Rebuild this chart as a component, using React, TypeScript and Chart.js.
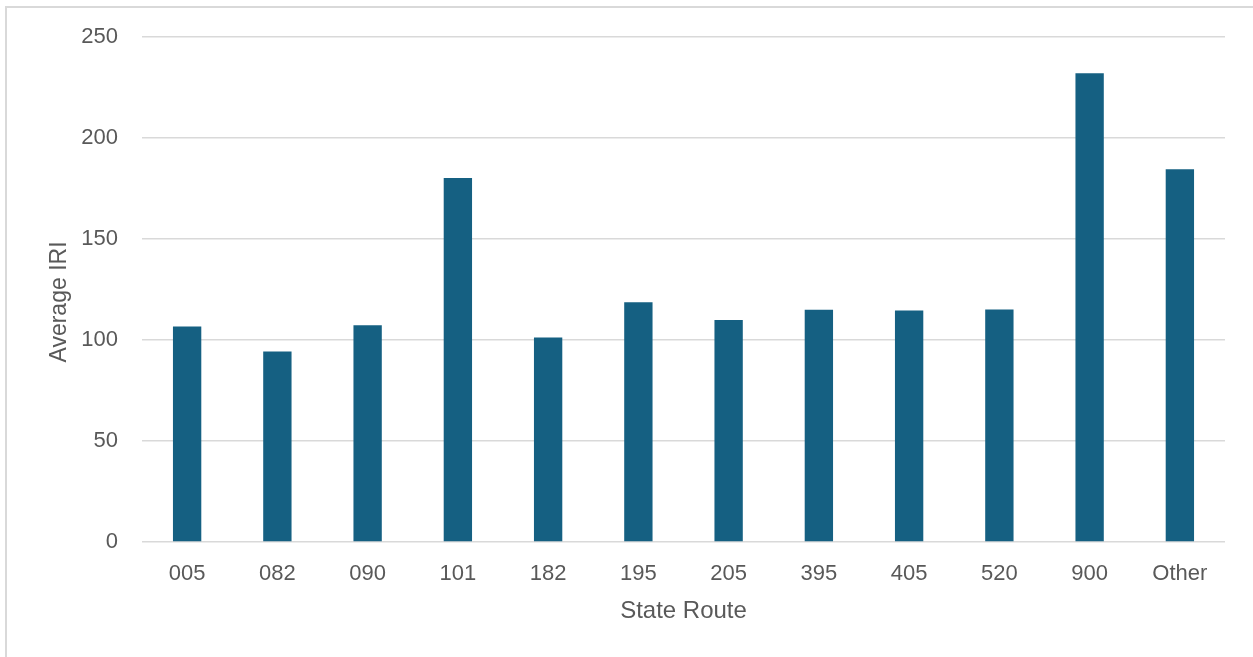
import React, { useEffect, useRef } from "react";
import { Chart, registerables } from "chart.js";

Chart.register(...registerables);

// Average IRI by state route
const routes = ["005", "082", "090", "101", "182", "195", "205", "395", "405", "520", "900", "Other"];
const averageIri = [106.7, 94.4, 107.4, 180.3, 101.3, 118.7, 110.0, 115.0, 114.6, 115.1, 232.1, 184.6];
const yTicks = [0, 50, 100, 150, 200, 250];

const FONT = "'Liberation Sans', Arial, sans-serif";
const TEXT = "#595959";
const GRID = "#d9d9d9";
const BAR = "#156082";

// Vertical axis title, drawn beside the value axis
const yTitlePlugin = {
  id: "yTitle",
  afterDraw(chart: Chart) {
    const { ctx } = chart;
    ctx.save();
    ctx.translate(60, 302);
    ctx.rotate(-Math.PI / 2);
    ctx.font = `23px ${FONT}`;
    ctx.fillStyle = TEXT;
    ctx.textAlign = "center";
    ctx.textBaseline = "middle";
    ctx.fillText("Average IRI", 0, 0);
    ctx.restore();
  },
};

export default function App() {
  const canvasRef = useRef<HTMLCanvasElement | null>(null);

  useEffect(() => {
    if (!canvasRef.current) return;
    const chart = new Chart(canvasRef.current, {
      type: "bar",
      data: {
        labels: routes,
        datasets: [
          {
            data: averageIri,
            backgroundColor: BAR,
            borderWidth: 0,
            categoryPercentage: 1,
            barPercentage: 0.314,
          },
        ],
      },
      options: {
        animation: false,
        responsive: false,
        maintainAspectRatio: false,
        layout: { padding: { top: 36, right: 28, left: 0, bottom: 0 } },
        plugins: {
          legend: { display: false },
          tooltip: { enabled: false },
        },
        scales: {
          x: {
            afterFit(scale: any) {
              scale.height = 115;
            },
            grid: { display: false, drawTicks: false },
            border: { display: false },
            ticks: {
              color: TEXT,
              font: { family: FONT, size: 22 },
              padding: 19,
              maxRotation: 0,
            },
            title: {
              display: true,
              text: "State Route",
              color: TEXT,
              font: { family: FONT, size: 24 },
              padding: { top: 0, bottom: 31 },
            },
          },
          y: {
            min: 0,
            max: 250,
            afterFit(scale: any) {
              scale.width = 142;
            },
            afterBuildTicks(scale: any) {
              scale.ticks = yTicks.map((v) => ({ value: v }));
            },
            grid: { color: GRID, lineWidth: 1.5, drawTicks: false },
            border: { display: false },
            ticks: {
              color: TEXT,
              font: { family: FONT, size: 22 },
              padding: 24,
            },
          },
        },
      },
      plugins: [yTitlePlugin],
    });
    return () => chart.destroy();
  }, []);

  return (
    <div
      style={{
        position: "fixed",
        left: 0,
        top: 0,
        width: 1253,
        height: 657,
        overflow: "hidden",
        background: "#ffffff",
      }}
    >
      <div
        style={{
          position: "absolute",
          left: 5,
          top: 6,
          width: 1400,
          height: 800,
          border: `2px solid ${GRID}`,
          boxSizing: "border-box",
        }}
      />
      <canvas
        ref={canvasRef}
        width={1253}
        height={657}
        style={{ position: "absolute", left: 0, top: 0, width: 1253, height: 657 }}
      />
    </div>
  );
}
